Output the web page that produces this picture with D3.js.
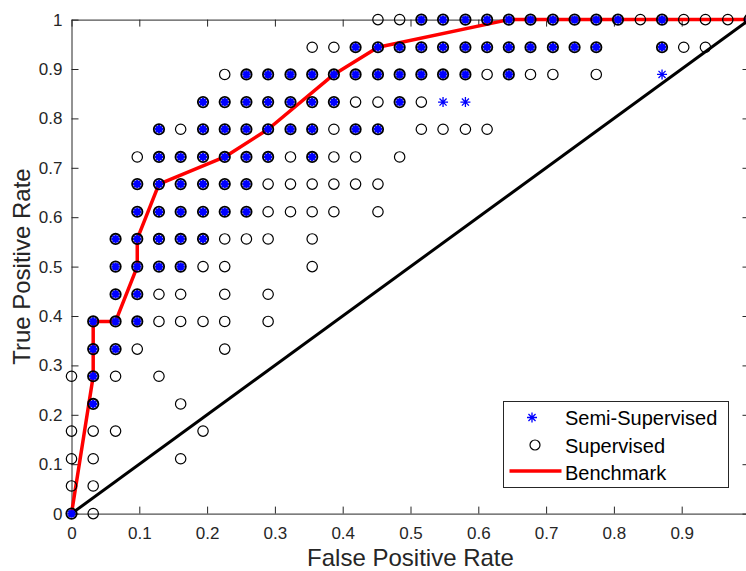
<!DOCTYPE html>
<html>
<head>
<meta charset="utf-8">
<script src="https://cdn.jsdelivr.net/npm/d3@7"></script>
<style>
  body { margin: 0; background: #fff; }
  text { font-family: "Liberation Sans", Arial, Helvetica, sans-serif; }
</style>
</head>
<body>
<script>
// ROC points: one entry per TPR row, FPR values in that row
var supervisedTPR = [1.000, 0.944, 0.889, 0.833, 0.778, 0.722, 0.667, 0.611, 0.556, 0.500,
                     0.444, 0.389, 0.333, 0.278, 0.222, 0.167, 0.111, 0.056, 0.000];
var supervisedFPR = [
  [.452,.484,.516,.548,.581,.613,.645,.677,.710,.742,.774,.806,.839,.871,.903,.935,.968,1],
  [.355,.387,.419,.452,.484,.516,.548,.581,.613,.645,.677,.710,.742,.774,.871,.903,.935],
  [.226,.258,.290,.323,.355,.387,.419,.452,.484,.516,.548,.581,.613,.645,.677,.710,.774],
  [.194,.226,.258,.290,.323,.355,.387,.419,.452,.484,.516],
  [.129,.161,.194,.226,.258,.290,.323,.355,.387,.419,.452,.516,.548,.581,.613],
  [.097,.129,.161,.194,.226,.258,.290,.323,.355,.387,.419,.484],
  [.097,.129,.161,.194,.226,.258,.290,.323,.355,.387,.419,.452],
  [.097,.129,.161,.194,.226,.258,.290,.323,.355,.387,.452],
  [.065,.097,.129,.161,.194,.226,.258,.290,.355],
  [.065,.097,.129,.161,.194,.226,.355],
  [.065,.097,.129,.161,.226,.290],
  [.032,.065,.097,.129,.161,.194,.226,.290],
  [.032,.065,.097,.226],
  [0,.032,.065,.129],
  [.032,.161],
  [0,.032,.065,.194],
  [0,.032,.161],
  [0,.032],
  [0,.032]
];

var semiTPR = [1.000, 0.944, 0.889, 0.833, 0.778, 0.722, 0.667, 0.611, 0.556, 0.500,
               0.444, 0.389, 0.333, 0.278, 0.222, 0.000];
var semiFPR = [
  [.516,.548,.581,.613,.645,.677,.710,.742,.774,.806,.871,1],
  [.419,.452,.484,.516,.548,.581,.613,.645,.677,.710,.742,.774,.871],
  [.258,.290,.323,.355,.387,.419,.452,.484,.516,.548,.581,.645,.871],
  [.194,.226,.258,.290,.323,.355,.387,.484,.548,.581],
  [.129,.194,.226,.258,.290,.323,.355,.419,.452],
  [.129,.161,.194,.226,.258,.290,.355],
  [.097,.129,.161,.194,.226,.258],
  [.097,.129,.161,.194,.226,.258],
  [.065,.097,.129,.161,.194],
  [.065,.097,.129,.161],
  [.065,.097],
  [.032,.065,.097],
  [.032,.065],
  [.032],
  [.032],
  [0]
];

// benchmark ROC curve
var benchFPR = [0, .032, .032, .065, .097, .097, .129, .226, .290, .387, .452, .645, 1];
var benchTPR = [0, .278, .389, .389, .500, .556, .667, .722, .778, .889, .944, 1, 1];

var xTicks = [0, .1, .2, .3, .4, .5, .6, .7, .8, .9, 1];
// the "1" label falls outside the cropped figure
var xTickLabels = ["0", "0.1", "0.2", "0.3", "0.4", "0.5", "0.6", "0.7", "0.8", "0.9", ""];
var yTicks = [0, .1, .2, .3, .4, .5, .6, .7, .8, .9, 1];
var yTickLabels = ["0", "0.1", "0.2", "0.3", "0.4", "0.5", "0.6", "0.7", "0.8", "0.9", "1"];

var legendNames = ["Semi-Supervised", "Supervised", "Benchmark"];

// flatten rows into point lists
var supervised = [];
supervisedTPR.forEach(function(t, i) {
  supervisedFPR[i].forEach(function(f) { supervised.push({fpr: f, tpr: t}); });
});
var semi = [];
semiTPR.forEach(function(t, i) {
  semiFPR[i].forEach(function(f) { semi.push({fpr: f, tpr: t}); });
});
var bench = benchFPR.map(function(f, i) { return {fpr: f, tpr: benchTPR[i]}; });

var key = d => d.fpr + "_" + d.tpr;
var supKeys = new Set(supervised.map(key));
var semiKeys = new Set(semi.map(key));

// layout
var svgWidth = 746, svgHeight = 571;
var margin = {top: 19.6, left: 71.5};
var chartWidth = 678, chartHeight = 494;
var axisColor = "#262626";

var svg = d3.select("body").append("svg")
  .attr("width", svgWidth)
  .attr("height", svgHeight);

var g = svg.append("g")
  .attr("transform", `translate(${margin.left}, ${margin.top})`);

var x = d3.scaleLinear().domain([0, 1]).range([0, chartWidth]);
var y = d3.scaleLinear().domain([0, 1]).range([chartHeight, 0]);

// axes (ticks inside, box on)
function styleAxis(sel) {
  sel.selectAll("path, line").attr("stroke", axisColor).attr("stroke-width", 1);
  sel.selectAll("text").attr("fill", axisColor).style("font-size", "17px");
}

g.append("g")
  .attr("transform", `translate(0, ${chartHeight})`)
  .call(d3.axisBottom(x).tickValues(xTicks).tickSizeInner(-7).tickSizeOuter(0).tickPadding(13)
    .tickFormat(function(d, i) { return xTickLabels[i]; }))
  .call(styleAxis);

g.append("g")
  .call(d3.axisTop(x).tickValues(xTicks).tickSizeInner(-7).tickSizeOuter(0).tickFormat(""))
  .call(styleAxis);

g.append("g")
  .call(d3.axisLeft(y).tickValues(yTicks).tickSizeInner(-7).tickSizeOuter(0).tickPadding(9)
    .tickFormat(function(d, i) { return yTickLabels[i]; }))
  .call(styleAxis);

g.append("g")
  .attr("transform", `translate(${chartWidth}, 0)`)
  .call(d3.axisRight(y).tickValues(yTicks).tickSizeInner(-7).tickSizeOuter(0).tickFormat(""))
  .call(styleAxis);

// axis titles
svg.append("text")
  .attr("x", margin.left + chartWidth / 2)
  .attr("y", 566)
  .attr("text-anchor", "middle")
  .attr("fill", axisColor)
  .style("font-size", "24px")
  .text("False Positive Rate");

svg.append("text")
  .attr("transform", `translate(30, ${margin.top + chartHeight / 2}) rotate(-90)`)
  .attr("text-anchor", "middle")
  .attr("fill", axisColor)
  .style("font-size", "24px")
  .text("True Positive Rate");

// random-guess diagonal
var line = d3.line().x(d => x(d.fpr)).y(d => y(d.tpr));

g.append("path")
  .datum([{fpr: 0, tpr: 0}, {fpr: 1, tpr: 1}])
  .attr("d", line)
  .attr("fill", "none")
  .attr("stroke", "#000")
  .attr("stroke-width", 3);

// benchmark curve
g.append("path")
  .datum(bench)
  .attr("d", line)
  .attr("fill", "none")
  .attr("stroke", "#ff0000")
  .attr("stroke-width", 3.5)
  .attr("stroke-linejoin", "round");

// asterisk marker path
function starPath(r) {
  var d = r * Math.SQRT1_2;
  return `M${-r},0L${r},0M0,${-r}L0,${r}M${-d},${-d}L${d},${d}M${-d},${d}L${d},${-d}`;
}

// semi-supervised asterisks (heavier where many runs overlap a supervised point)
g.selectAll(".semi")
  .data(semi)
  .enter()
  .append("path")
  .attr("class", "semi")
  .attr("transform", d => `translate(${x(d.fpr)}, ${y(d.tpr)})`)
  .attr("d", d => supKeys.has(key(d)) ? starPath(4.2) : starPath(5))
  .attr("fill", "none")
  .attr("stroke", "#0000ff")
  .attr("stroke-width", d => supKeys.has(key(d)) ? 2.3 : 1.3);

// supervised circles
g.selectAll(".sup")
  .data(supervised)
  .enter()
  .append("circle")
  .attr("class", "sup")
  .attr("cx", d => x(d.fpr))
  .attr("cy", d => y(d.tpr))
  .attr("r", 5.2)
  .attr("fill", "none")
  .attr("stroke", "#000")
  .attr("stroke-width", d => semiKeys.has(key(d)) ? 1.8 : 1.2);

// legend
var lg = svg.append("g").attr("transform", "translate(503.5, 401.5)");
lg.append("rect")
  .attr("width", 225)
  .attr("height", 86)
  .attr("fill", "#fff")
  .attr("stroke", axisColor)
  .attr("stroke-width", 1);

lg.append("path")
  .attr("transform", "translate(28.5, 16)")
  .attr("d", starPath(5))
  .attr("fill", "none")
  .attr("stroke", "#0000ff")
  .attr("stroke-width", 1.3);

lg.append("circle")
  .attr("cx", 31.5)
  .attr("cy", 43.5)
  .attr("r", 5)
  .attr("fill", "none")
  .attr("stroke", "#000")
  .attr("stroke-width", 1.2);

lg.append("line")
  .attr("x1", 6).attr("x2", 58)
  .attr("y1", 69.5).attr("y2", 69.5)
  .attr("stroke", "#ff0000")
  .attr("stroke-width", 3.5);

lg.selectAll(".lt")
  .data(legendNames)
  .enter()
  .append("text")
  .attr("class", "lt")
  .attr("x", 61.5)
  .attr("y", (d, i) => 23.5 + i * 27.5)
  .attr("fill", "#000")
  .style("font-size", "20px")
  .text(d => d);
</script>
</body>
</html>
